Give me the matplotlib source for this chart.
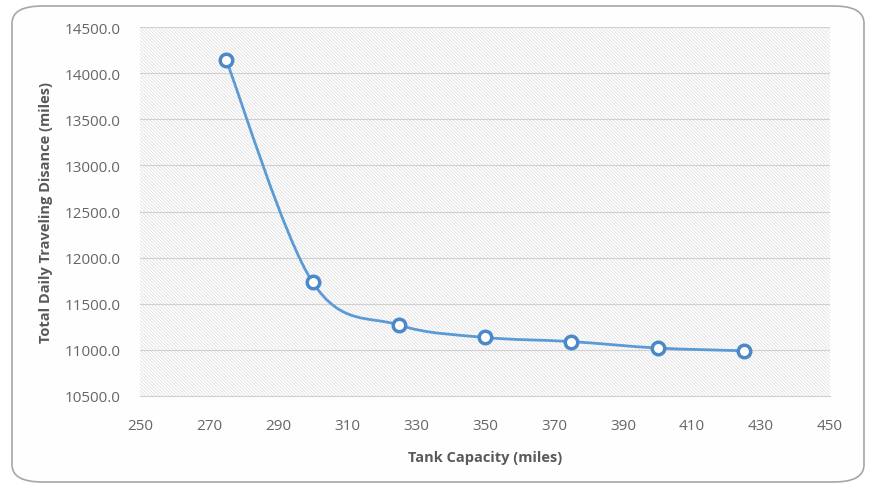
import matplotlib
matplotlib.use('Agg')
import matplotlib.pyplot as plt
from matplotlib.patches import FancyBboxPatch, Rectangle
from matplotlib.path import Path
from matplotlib.patches import PathPatch

# Datos
tank_capacity = [275, 300, 325, 350, 375, 400, 425]
total_distance = [14140, 11735, 11270, 11135, 11090, 11020, 10990]

x_ticks = [250, 270, 290, 310, 330, 350, 370, 390, 410, 430, 450]
y_ticks = [10500, 11000, 11500, 12000, 12500, 13000, 13500, 14000, 14500]

LINE = '#5b9bd5'
EDGE = '#4a88c8'
TXT = '#666666'

plt.rcParams['font.family'] = ['Open Sans', 'DejaVu Sans']
plt.rcParams['hatch.linewidth'] = 0.5

fig = plt.figure(figsize=(8.72, 4.89), dpi=100)
fig.patch.set_facecolor('white')

# Marco redondeado
frame = FancyBboxPatch((12 / 872, 6 / 489), 852 / 872, 476 / 489,
                       boxstyle='round,pad=0,rounding_size=0.035',
                       transform=fig.transFigure, facecolor='#fefefe',
                       edgecolor='#a6a6a6', linewidth=1.2, zorder=-5)
fig.patches.append(frame)

ax = fig.add_axes([140 / 872, 1 - 397 / 489, 690 / 872, 369 / 489])
ax.set_zorder(2)
ax.set_facecolor('white')
ax.set_xlim(250, 450)
ax.set_ylim(10500, 14500)

# Fondo rayado del área de trazado
ax.add_patch(Rectangle((0, 0), 1, 1, transform=ax.transAxes, facecolor='none',
                       edgecolor='#dadada', linewidth=0, hatch='\\' * 10,
                       zorder=0))

for y in y_ticks[1:]:
    ax.axhline(y, color='#d0d0d0', linewidth=0.8, zorder=1)

# Línea suavizada (Bezier estilo Excel)
pts = list(zip(tank_capacity, total_distance))
verts = [pts[0]]
codes = [Path.MOVETO]
for i in range(len(pts) - 1):
    p0 = pts[i - 1] if i > 0 else pts[i]
    p1 = pts[i]
    p2 = pts[i + 1]
    p3 = pts[i + 2] if i + 2 < len(pts) else pts[i + 1]
    c1 = (p1[0] + (p2[0] - p0[0]) / 6, p1[1] + (p2[1] - p0[1]) / 6)
    c2 = (p2[0] - (p3[0] - p1[0]) / 6, p2[1] - (p3[1] - p1[1]) / 6)
    verts += [c1, c2, p2]
    codes += [Path.CURVE4] * 3
ax.add_patch(PathPatch(Path(verts, codes), facecolor='none', edgecolor=LINE,
                       linewidth=2.0, zorder=3))

ax.plot(tank_capacity, total_distance, linestyle='none', marker='o',
        markersize=9, markerfacecolor='white', markeredgecolor=EDGE,
        markeredgewidth=2.5, zorder=4)

ax.set_xticks(x_ticks)
ax.set_yticks(y_ticks)
ax.set_yticklabels([f'{v:.1f}' for v in y_ticks])
ax.tick_params(length=0, labelsize=11, colors=TXT)
ax.tick_params(axis='y', pad=14)
ax.tick_params(axis='x', pad=16)
for s in ['top', 'right', 'left']:
    ax.spines[s].set_visible(False)
ax.spines['bottom'].set_color('#d0d0d0')

ax.set_xlabel('Tank Capacity (miles)', fontsize=10.5, fontweight='bold',
              color='#595959', labelpad=12)
ax.set_ylabel('Total Daily Traveling Disance (miles)', fontsize=10.5,
              fontweight='bold', color='#595959', labelpad=8)

fig.savefig('out.png', dpi=100)
